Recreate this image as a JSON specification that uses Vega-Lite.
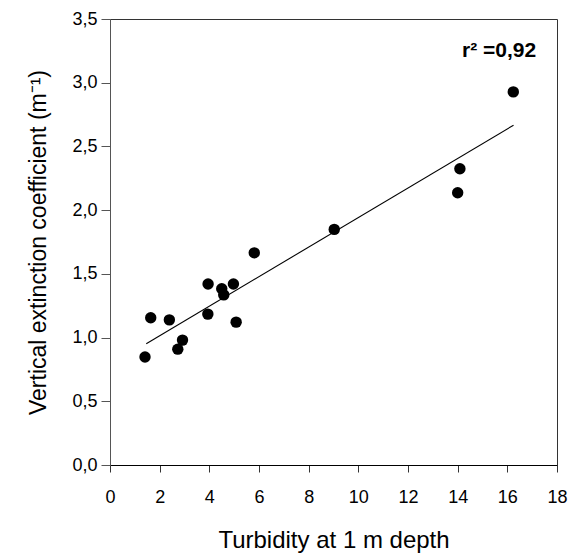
{
  "$schema": "https://vega.github.io/schema/vega-lite/v6.json",
  "width": 447,
  "height": 446,
  "autosize": {"type": "none"},
  "padding": {"left": 110, "top": 19, "right": 17, "bottom": 95},
  "background": "white",
  "config": {
    "font": "Liberation Sans",
    "view": {"stroke": "#333333", "strokeWidth": 1},
    "axis": {"grid": false, "labelFont": "Liberation Sans", "titleFont": "Liberation Sans", "labelColor": "black", "titleColor": "black", "titleFontWeight": "normal"}
  },
  "datasets": {
    "obs": [
      {"turbidity": 1.41, "kd": 0.848},
      {"turbidity": 1.64, "kd": 1.155},
      {"turbidity": 2.39, "kd": 1.139},
      {"turbidity": 2.73, "kd": 0.909},
      {"turbidity": 2.92, "kd": 0.98},
      {"turbidity": 3.95, "kd": 1.42},
      {"turbidity": 3.94, "kd": 1.184},
      {"turbidity": 4.5, "kd": 1.383},
      {"turbidity": 4.58, "kd": 1.335},
      {"turbidity": 4.97, "kd": 1.42},
      {"turbidity": 5.08, "kd": 1.121},
      {"turbidity": 5.81, "kd": 1.665},
      {"turbidity": 9.03, "kd": 1.849},
      {"turbidity": 14.09, "kd": 2.325},
      {"turbidity": 14.0, "kd": 2.137},
      {"turbidity": 16.24, "kd": 2.928}
    ],
    "note": [
      {"turbidity": 15.67, "kd": 3.25, "label": "r² =0,92"}
    ]
  },
  "layer": [
    {
      "data": {"name": "obs"},
      "transform": [
        {"regression": "kd", "on": "turbidity", "extent": [1.46, 16.25]}
      ],
      "mark": {"type": "line", "color": "black", "strokeWidth": 1.1},
      "encoding": {
        "x": {"field": "turbidity", "type": "quantitative"},
        "y": {"field": "kd", "type": "quantitative"}
      }
    },
    {
      "data": {"name": "obs"},
      "mark": {"type": "point", "filled": true, "shape": "circle", "color": "black", "opacity": 1, "size": 130},
      "encoding": {
        "x": {
          "field": "turbidity",
          "type": "quantitative",
          "scale": {"domain": [0, 18], "nice": false, "zero": true},
          "axis": {
            "title": "Turbidity at 1 m depth",
            "values": [0, 2, 4, 6, 8, 10, 12, 14, 16, 18],
            "domainColor": "black",
            "tickColor": "#333333",
            "tickSize": 7,
            "labelPadding": 16,
            "labelFontSize": 18,
            "titleFontSize": 24,
            "titlePadding": 22,
            "labelFlush": false
          }
        },
        "y": {
          "field": "kd",
          "type": "quantitative",
          "scale": {"domain": [0, 3.5], "nice": false},
          "axis": {
            "title": "Vertical extinction coefficient (m⁻¹)",
            "values": [0, 0.5, 1, 1.5, 2, 2.5, 3, 3.5],
            "labelExpr": "replace(format(datum.value, '.1f'), '.', ',')",
            "domainColor": "#555555",
            "tickColor": "#555555",
            "tickSize": 9,
            "labelPadding": 4,
            "labelFontSize": 18,
            "titleFontSize": 23,
            "titlePadding": 21,
            "labelFlush": false
          }
        }
      }
    },
    {
      "data": {"name": "note"},
      "mark": {"type": "text", "fontWeight": "bold", "fontSize": 21, "color": "black", "align": "center", "baseline": "middle"},
      "encoding": {
        "x": {"field": "turbidity", "type": "quantitative"},
        "y": {"field": "kd", "type": "quantitative"},
        "text": {"field": "label"}
      }
    }
  ]
}
